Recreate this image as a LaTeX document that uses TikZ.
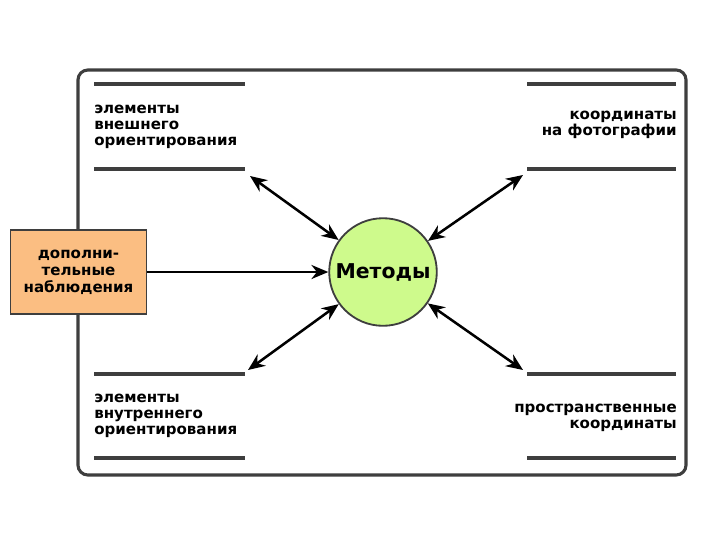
\documentclass[tikz,border=0pt]{standalone}
\usepackage{fontspec}
\setmainfont{DejaVu Sans}
\usetikzlibrary{arrows.meta}
\definecolor{boxorange}{RGB}{251,190,130}
\definecolor{methgreen}{RGB}{206,250,140}
\definecolor{framegray}{RGB}{62,62,62}

\begin{document}
\begin{tikzpicture}[x=0.025cm, y=-0.025cm,
  rule/.style={draw=framegray, line width=2.4pt},
  lbl/.style={font=\bfseries\fontsize{10.7}{11.6}\selectfont, inner sep=0pt},
  link/.style={line width=1.8pt, {Stealth[length=12pt,width=10pt]}-{Stealth[length=12pt,width=10pt]}},
  feed/.style={line width=1.8pt, -{Stealth[length=12pt,width=10pt]}}]
  \useasboundingbox (0,0) rectangle (720,540);
  % frame and rules
  \draw[framegray, line width=2.2pt, rounded corners=7pt] (78,70) rectangle (686,475);
  \foreach \y in {84,169,374,458} {
    \draw[rule] (94,\y) -- (245,\y);
    \draw[rule] (527,\y) -- (676,\y);
  }
  % texts
  \node[lbl, anchor=west, align=left] (extOr) at (94,127) {элементы\\внешнего\\ориентирования};
  \node[lbl, anchor=east, align=right] (phCoord) at (677,125) {координаты\\на фотографии};
  \node[lbl, anchor=west, align=left] (intOr) at (94,416) {элементы\\внутреннего\\ориентирования};
  \node[lbl, anchor=east, align=right] (spCoord) at (677,418) {пространственные\\координаты};
  % centre and side box
  \node[circle, draw=framegray, line width=1.3pt, fill=methgreen, minimum size=2.6cm,
        font=\bfseries\fontsize{14.5}{16}\selectfont] (methods) at (383,272) {Методы};
  \node[draw=framegray, line width=1.3pt, fill=boxorange, minimum width=3.4cm, minimum height=2.1cm,
        align=center, font=\bfseries\fontsize{10.7}{12.2}\selectfont] (addObs) at (78.5,272)
        {дополни-\\тельные\\наблюдения};
  % arrows
  \coordinate (aExt) at (250,176);
  \coordinate (aPh) at (523,175);
  \coordinate (aInt) at (248,370);
  \coordinate (aSp) at (523,370);
  \draw[link] (aExt) -- (methods);
  \draw[link] (aPh) -- (methods);
  \draw[link] (aInt) -- (methods);
  \draw[link] (aSp) -- (methods);
  \draw[feed] (addObs) -- (methods);
\end{tikzpicture}
\end{document}
